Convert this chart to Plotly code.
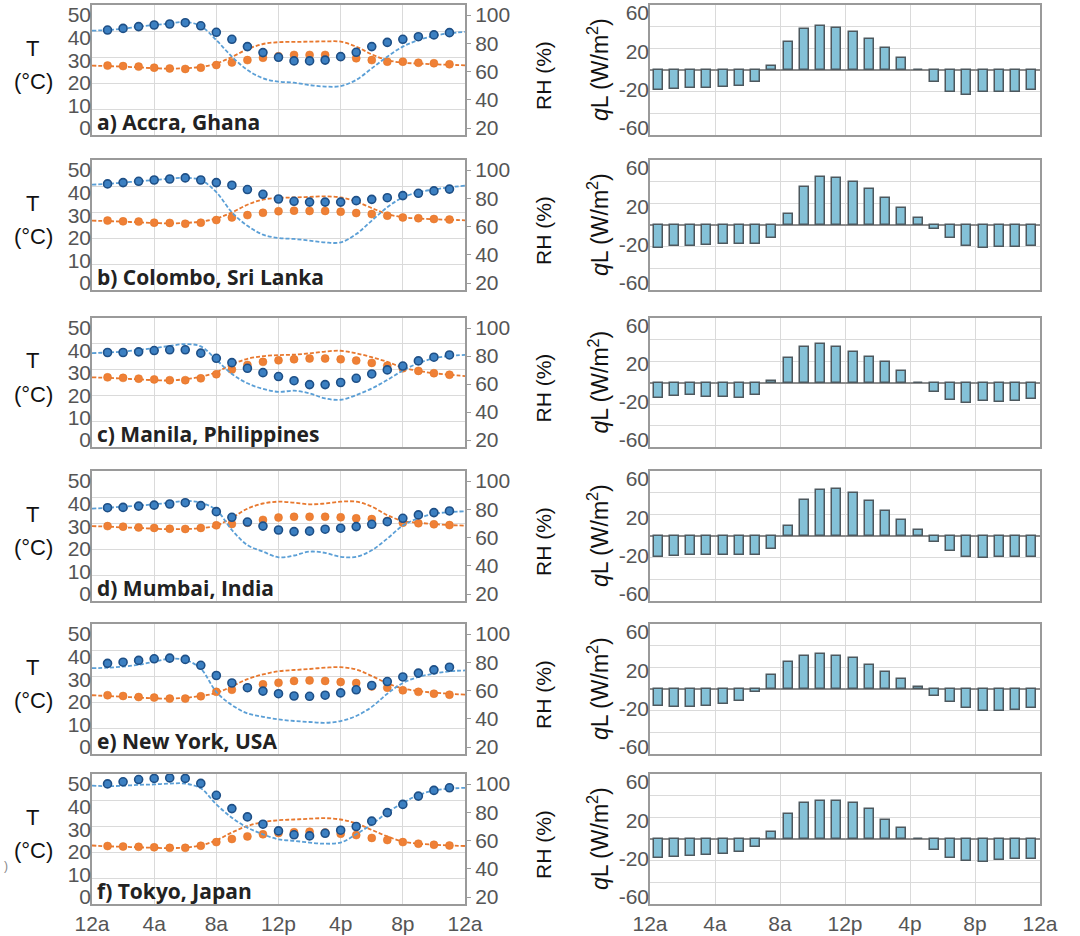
import plotly.graph_objects as go

# ---------------- data ----------------
hours_obs = list(range(1, 24))          # hourly observations
hours_model = list(range(0, 25))        # model curve sampled hourly
hours_bar = [h + 0.5 for h in range(24)]
tick_vals = [0, 4, 8, 12, 16, 20, 24]
tick_text = ["12a", "4a", "8a", "12p", "4p", "8p", "12a"]
t_ticks = [0, 10, 20, 30, 40, 50]
rh_ticks = [20, 40, 60, 80, 100]
ql_ticks = [-60, -20, 20, 60]

panel_labels = ["a) Accra, Ghana", "b) Colombo, Sri Lanka", "c) Manila, Philippines",
                "d) Mumbai, India", "e) New York, USA", "f) Tokyo, Japan"]

# Relative humidity (%) - observed (dots) and model (dashed)
accra_rh_obs = [84.6, 85.6, 86.7, 87.7, 88.3, 89.1, 87.2, 83.2, 78.9, 74.4, 70.7, 67.8, 65.6, 65.6, 66.1, 68.2, 70.9, 74.4, 77.0, 78.9, 80.5, 81.6, 83.0]
accra_rh_mod = [84.2, 84.6, 85.4, 86.7, 87.7, 88.6, 89.6, 87.0, 78.4, 68.2, 60.0, 54.9, 52.8, 52.2, 50.7, 49.8, 50.1, 53.9, 61.0, 68.2, 74.4, 78.4, 81.0, 82.6, 83.5]
colombo_rh_obs = [85.3, 86.1, 86.9, 87.7, 88.3, 89.0, 87.7, 86.1, 84.5, 81.8, 78.9, 76.0, 74.6, 74.1, 74.1, 74.1, 75.0, 75.8, 76.8, 78.1, 79.5, 81.0, 82.1]
colombo_rh_mod = [84.8, 85.3, 86.1, 86.9, 87.7, 88.5, 89.0, 87.7, 80.2, 67.8, 59.5, 54.1, 52.0, 51.4, 50.4, 49.3, 49.3, 54.4, 62.7, 70.9, 77.0, 80.2, 81.8, 83.2, 84.2]
manila_rh_obs = [78.6, 78.6, 79.0, 79.8, 80.3, 80.3, 78.2, 75.0, 72.3, 68.8, 66.1, 63.7, 61.1, 58.7, 58.7, 60.0, 62.6, 65.3, 67.8, 70.2, 73.4, 75.7, 77.1]
manila_rh_mod = [78.2, 78.6, 79.2, 80.2, 81.3, 82.7, 83.8, 82.4, 74.1, 65.3, 59.5, 56.0, 54.2, 54.9, 53.3, 50.1, 49.3, 52.2, 56.3, 61.6, 67.4, 72.0, 75.0, 76.5, 77.1]
mumbai_rh_obs = [77.4, 77.6, 78.4, 79.0, 79.7, 80.5, 78.7, 75.0, 71.5, 68.6, 66.1, 63.7, 62.7, 63.0, 64.2, 64.8, 65.8, 67.2, 68.8, 70.9, 73.0, 74.4, 75.4]
mumbai_rh_mod = [76.8, 77.4, 78.1, 78.7, 79.5, 80.5, 81.6, 80.5, 76.0, 63.7, 54.4, 50.4, 46.9, 48.0, 50.4, 49.6, 47.2, 47.2, 51.2, 58.4, 66.4, 70.9, 73.6, 74.7, 75.2]
newyork_rh_obs = [75.8, 76.5, 77.6, 78.6, 79.0, 78.2, 74.6, 68.3, 63.7, 60.8, 58.7, 57.1, 55.7, 55.5, 56.2, 57.6, 59.5, 62.2, 64.6, 67.4, 69.8, 71.8, 73.4]
newyork_rh_mod = [72.8, 73.1, 73.8, 74.9, 76.8, 78.6, 77.9, 72.5, 58.2, 50.1, 45.0, 42.9, 41.3, 40.3, 39.7, 39.2, 40.3, 43.4, 49.0, 57.1, 63.7, 67.4, 69.4, 70.9, 71.4]
tokyo_rh_obs = [93.9, 95.2, 96.6, 97.3, 97.6, 97.3, 94.2, 86.9, 78.7, 73.6, 69.1, 65.0, 62.6, 61.9, 63.5, 65.4, 67.7, 71.0, 76.2, 81.3, 86.4, 89.9, 91.5]
tokyo_rh_mod = [92.8, 92.5, 92.8, 93.3, 93.6, 94.1, 94.1, 91.2, 81.3, 73.1, 67.0, 62.9, 59.8, 58.9, 57.8, 57.1, 57.8, 62.9, 69.1, 76.2, 82.2, 87.0, 89.9, 91.0, 91.5]

# Temperature (deg C) - observed (dots) and model (dashed)
accra_t_obs = [26.7, 26.5, 26.3, 25.9, 25.6, 25.4, 25.9, 26.9, 27.9, 28.8, 29.7, 30.3, 30.8, 30.8, 30.8, 30.1, 29.5, 28.8, 28.2, 28.2, 27.8, 27.6, 27.2]
accra_t_mod = [26.7, 26.5, 26.3, 26.0, 25.7, 25.5, 25.7, 26.2, 27.5, 30.0, 33.0, 35.0, 35.7, 35.8, 35.9, 36.0, 35.9, 34.0, 31.0, 28.8, 27.8, 27.5, 27.2, 27.0, 26.8]
colombo_t_obs = [26.7, 26.4, 26.3, 25.9, 25.8, 25.5, 25.9, 26.9, 27.9, 28.8, 29.7, 30.3, 30.5, 30.4, 30.4, 30.1, 29.6, 29.2, 28.6, 27.9, 27.6, 27.3, 27.1]
colombo_t_mod = [26.7, 26.5, 26.3, 26.0, 25.8, 25.6, 25.8, 26.3, 27.5, 29.8, 32.8, 34.8, 35.4, 35.6, 35.8, 36.0, 35.6, 34.0, 31.5, 29.2, 28.0, 27.5, 27.2, 27.0, 26.8]
manila_t_obs = [27.0, 26.8, 26.5, 26.2, 25.9, 25.9, 26.6, 28.2, 30.0, 31.8, 33.0, 33.6, 34.0, 34.3, 34.3, 34.0, 33.5, 32.6, 31.5, 30.5, 29.5, 28.6, 28.0]
manila_t_mod = [27.0, 26.8, 26.5, 26.2, 25.9, 25.8, 26.3, 27.2, 29.0, 32.0, 34.2, 35.2, 35.6, 35.8, 36.3, 37.0, 37.3, 36.3, 34.8, 33.0, 30.8, 29.5, 28.6, 28.0, 27.5]
mumbai_t_obs = [28.8, 28.6, 28.3, 28.1, 27.8, 27.7, 28.1, 29.1, 29.6, 30.1, 31.2, 32.1, 32.4, 32.4, 32.4, 32.2, 31.8, 31.5, 30.8, 30.1, 29.9, 29.5, 29.2]
mumbai_t_mod = [28.8, 28.6, 28.3, 28.1, 27.8, 27.6, 27.7, 28.0, 29.0, 32.0, 35.5, 37.5, 38.2, 37.8, 37.2, 37.5, 38.2, 38.2, 36.3, 33.0, 30.8, 30.1, 29.6, 29.2, 29.0]
newyork_t_obs = [22.6, 22.3, 21.9, 21.7, 21.3, 21.3, 22.2, 23.9, 24.7, 25.5, 26.8, 27.4, 28.1, 28.3, 28.1, 27.7, 27.3, 26.0, 25.5, 24.5, 23.9, 23.2, 22.8]
newyork_t_mod = [22.6, 22.3, 22.0, 21.7, 21.4, 21.3, 21.6, 22.3, 23.5, 26.0, 28.8, 30.6, 31.8, 32.3, 32.7, 33.2, 33.4, 32.5, 30.0, 27.2, 25.2, 24.2, 23.6, 23.2, 22.8]
tokyo_t_obs = [22.3, 22.1, 22.0, 21.8, 21.6, 21.6, 22.4, 23.8, 25.0, 26.0, 26.8, 27.3, 27.6, 27.8, 27.5, 27.0, 26.5, 25.4, 24.6, 23.8, 23.2, 22.8, 22.5]
tokyo_t_mod = [22.5, 22.2, 22.0, 21.8, 21.6, 21.5, 21.7, 22.5, 24.5, 27.5, 30.0, 31.5, 32.2, 32.5, 32.8, 33.0, 32.5, 31.0, 28.5, 26.0, 24.0, 23.2, 22.8, 22.5, 22.3]

# Latent heat flux qL (W/m2), hourly bars
accra_ql = [-18.2, -17.6, -17.0, -16.3, -15.4, -14.4, -11.0, 3.4, 26.0, 37.6, 40.4, 38.6, 35.1, 28.5, 20.0, 11.3, 0.0, -11.3, -20.7, -22.9, -20.7, -20.7, -20.0, -18.5]
colombo_ql = [-21.0, -19.4, -19.4, -18.5, -17.9, -17.9, -17.2, -11.6, 10.3, 34.8, 44.2, 43.3, 40.1, 32.9, 24.5, 16.0, 6.6, -3.8, -12.2, -19.7, -21.0, -20.4, -20.0, -19.7]
manila_ql = [-14.7, -12.9, -11.9, -13.2, -13.8, -14.7, -11.9, 1.6, 22.6, 32.9, 35.4, 32.6, 28.2, 23.5, 18.8, 10.3, -0.5, -9.1, -16.3, -19.1, -17.2, -17.9, -17.2, -15.4]
mumbai_ql = [-19.1, -18.2, -17.2, -17.2, -17.2, -17.2, -17.2, -11.6, 8.8, 32.9, 42.9, 43.6, 39.8, 32.0, 23.5, 14.7, 5.3, -5.6, -14.1, -19.1, -20.4, -19.7, -19.4, -19.1]
newyork_ql = [-16.0, -16.6, -16.6, -16.0, -14.1, -11.3, -3.1, 12.9, 24.8, 30.4, 32.0, 30.4, 28.5, 22.3, 15.4, 9.1, 1.6, -6.3, -11.9, -17.2, -20.4, -20.1, -19.1, -17.6]
tokyo_ql = [-17.2, -16.6, -15.4, -14.7, -13.8, -12.2, -7.2, 6.6, 23.2, 32.9, 35.4, 35.4, 33.5, 27.3, 17.9, 9.7, 0.0, -10.3, -17.2, -20.7, -21.3, -19.7, -18.5, -18.2]

rh_obs = [accra_rh_obs, colombo_rh_obs, manila_rh_obs, mumbai_rh_obs, newyork_rh_obs, tokyo_rh_obs]
rh_mod = [accra_rh_mod, colombo_rh_mod, manila_rh_mod, mumbai_rh_mod, newyork_rh_mod, tokyo_rh_mod]
t_obs = [accra_t_obs, colombo_t_obs, manila_t_obs, mumbai_t_obs, newyork_t_obs, tokyo_t_obs]
t_mod = [accra_t_mod, colombo_t_mod, manila_t_mod, mumbai_t_mod, newyork_t_mod, tokyo_t_mod]
ql = [accra_ql, colombo_ql, manila_ql, mumbai_ql, newyork_ql, tokyo_ql]

# ---------------- styling / layout ----------------
W, H = 1080, 936
row_top = [5, 160, 318, 471, 624, 774]
row_bot = [135, 290, 447, 601, 754, 904]
LX = (92, 465)
RX = (650, 1040)

GRID = "#dadada"
BORDER = "#9a9a9a"
TICKFONT = dict(family="Liberation Sans, Arial, sans-serif", size=21, color="#555555")
BLUE_DOT = "#3c80c2"
BLUE_EDGE = "#1e4f86"
BLUE_LINE = "#5b9fd6"
ORANGE_DOT = "#ef8036"
ORANGE_LINE = "#e8782e"
BAR_FILL = "#84c1d7"
BAR_EDGE = "#4d585e"


def fx(px):
    return px / W


def fy(px):
    return 1 - px / H


def axname(kind, n):
    return f"{kind}axis" if n == 1 else f"{kind}axis{n}"


def axref(kind, n):
    return kind if n == 1 else f"{kind}{n}"


def label_range(lo, hi, top, bot, pad_top, pad_bot):
    # tick labels of the original sit slightly inside the frame
    h = bot - top
    s = (h - pad_top - pad_bot) / (hi - lo)
    return [lo - pad_bot / s, hi + pad_top / s]


fig = go.Figure()
layout = {}
annotations = []

for r in range(6):
    xl, xr = 2 * r + 1, 2 * r + 2
    yt, yrh, ytl, yrhl, yq, yql = [6 * r + k for k in range(1, 7)]
    top, bot = row_top[r], row_bot[r]
    last = r == 5
    dom = [fy(bot), fy(top)]

    # ---- left panel axes ----
    layout[axname("x", xl)] = dict(
        domain=[fx(LX[0]), fx(LX[1])], anchor=axref("y", yt), range=[0, 24],
        tickvals=tick_vals, ticktext=tick_text, showticklabels=last,
        showgrid=True, gridcolor=GRID, gridwidth=1.3, zeroline=False,
        showline=True, linecolor=BORDER, linewidth=1.6, mirror=True, ticks="",
        tickfont=TICKFONT, automargin=False, ticklabeloverflow="allow")
    layout[axname("y", yt)] = dict(
        domain=dom, anchor=axref("x", xl), range=[0, 50],
        tick0=0, dtick=10, showgrid=True, gridcolor=GRID, gridwidth=1.3,
        showticklabels=False, zeroline=False, showline=True, linecolor=BORDER,
        linewidth=1.6, mirror=True, ticks="", automargin=False)
    layout[axname("y", yrh)] = dict(
        overlaying=axref("y", yt), anchor=axref("x", xl), side="right",
        range=[20, 100], showgrid=False, showticklabels=False, zeroline=False,
        showline=False, ticks="", automargin=False)
    layout[axname("y", ytl)] = dict(
        overlaying=axref("y", yt), anchor=axref("x", xl), side="left",
        range=label_range(0, 50, top, bot, 10, 7), tickvals=t_ticks,
        showgrid=False, zeroline=False, showline=False, ticks="",
        tickfont=TICKFONT, automargin=False, ticklabeloverflow="allow")
    layout[axname("y", yrhl)] = dict(
        overlaying=axref("y", yt), anchor=axref("x", xl), side="right",
        range=label_range(20, 100, top, bot, 10, 7), tickvals=rh_ticks,
        showgrid=False, zeroline=False, showline=False, ticks="outside",
        ticklen=5, tickcolor=BORDER, tickfont=TICKFONT, automargin=False,
        ticklabeloverflow="allow")

    # ---- right panel axes ----
    layout[axname("x", xr)] = dict(
        domain=[fx(RX[0]), fx(RX[1])], anchor=axref("y", yq), range=[0, 24],
        tickvals=tick_vals, ticktext=tick_text, showticklabels=last,
        showgrid=True, gridcolor=GRID, gridwidth=1.3, zeroline=False,
        showline=True, linecolor=BORDER, linewidth=1.6, mirror=True, ticks="",
        tickfont=TICKFONT, automargin=False, ticklabeloverflow="allow")
    layout[axname("y", yq)] = dict(
        domain=dom, anchor=axref("x", xr), range=[-60, 60], tick0=-60, dtick=20,
        showgrid=True, gridcolor=GRID, gridwidth=1.3, showticklabels=False,
        zeroline=True, zerolinecolor="#8c8c8c", zerolinewidth=1.6,
        showline=True, linecolor=BORDER, linewidth=1.6, mirror=True, ticks="",
        automargin=False)
    layout[axname("y", yql)] = dict(
        overlaying=axref("y", yq), anchor=axref("x", xr), side="left",
        range=label_range(-60, 60, top, bot, 8, 7), tickvals=ql_ticks,
        ticktext=[str(v) for v in ql_ticks],
        showgrid=False, zeroline=False, showline=False, ticks="",
        tickfont=TICKFONT, automargin=False, ticklabeloverflow="allow")

    # ---- traces ----
    fig.add_trace(go.Scatter(
        x=hours_model, y=rh_mod[r], mode="lines",
        line=dict(color=BLUE_LINE, width=1.8, dash="4px,2px", shape="spline", smoothing=1.0),
        xaxis=axref("x", xl), yaxis=axref("y", yrh), hoverinfo="skip"))
    fig.add_trace(go.Scatter(
        x=hours_model, y=t_mod[r], mode="lines",
        line=dict(color=ORANGE_LINE, width=1.8, dash="4px,2px", shape="spline", smoothing=1.0),
        xaxis=axref("x", xl), yaxis=axref("y", yt), hoverinfo="skip"))
    fig.add_trace(go.Scatter(
        x=hours_obs, y=t_obs[r], mode="markers",
        marker=dict(color=ORANGE_DOT, size=8, line=dict(color="#e0701f", width=0.5)),
        xaxis=axref("x", xl), yaxis=axref("y", yt)))
    fig.add_trace(go.Scatter(
        x=hours_obs, y=rh_obs[r], mode="markers",
        marker=dict(color=BLUE_DOT, size=8, line=dict(color=BLUE_EDGE, width=1.6)),
        xaxis=axref("x", xl), yaxis=axref("y", yrh)))
    fig.add_trace(go.Bar(
        x=hours_bar, y=ql[r], width=0.55,
        marker=dict(color=BAR_FILL, line=dict(color=BAR_EDGE, width=1.5)),
        xaxis=axref("x", xr), yaxis=axref("y", yq)))
    # empty traces so that the label-only axes are rendered
    for ya, xa in ((ytl, xl), (yrhl, xl), (yql, xr)):
        fig.add_trace(go.Scatter(x=[], y=[], mode="markers", showlegend=False,
                                 xaxis=axref("x", xa), yaxis=axref("y", ya)))

    # ---- text ----
    annotations.append(dict(
        text="T", x=fx(32), y=fy(top + 43), xref="paper", yref="paper",
        xanchor="center", yanchor="middle", showarrow=False,
        font=dict(family="Liberation Sans, Arial", size=22, color="#111111")))
    annotations.append(dict(
        text="(°C)", x=fx(33), y=fy(top + 76), xref="paper", yref="paper",
        xanchor="center", yanchor="middle", showarrow=False,
        font=dict(family="Liberation Sans, Arial", size=22, color="#111111")))
    annotations.append(dict(
        text="RH (%)", x=fx(543), y=fy((top + bot) / 2 + 6), xref="paper", yref="paper",
        xanchor="center", yanchor="middle", showarrow=False, textangle=-90,
        font=dict(family="Liberation Sans, Arial", size=21, color="#111111")))
    annotations.append(dict(
        text="<i>q</i>L (W/m<sup>2</sup>)", x=fx(598), y=fy((top + bot) / 2),
        xref="paper", yref="paper", xanchor="center", yanchor="middle",
        showarrow=False, textangle=-90,
        font=dict(family="Liberation Sans, Arial", size=23, color="#111111")))
    annotations.append(dict(
        text="<b>" + panel_labels[r] + "</b>", x=fx(95), y=fy(bot - 13),
        xref="paper", yref="paper", xanchor="left", yanchor="middle",
        showarrow=False,
        font=dict(family="Open Sans, Liberation Sans", size=21, color="#222222")))

# small stray mark at the left edge of the original figure
annotations.append(dict(
    text=")", x=fx(6), y=fy(866), xref="paper", yref="paper",
    xanchor="center", yanchor="middle", showarrow=False,
    font=dict(family="Liberation Sans", size=12, color="#888888")))

fig.update_layout(
    width=W, height=H, margin=dict(l=0, r=0, t=0, b=0, autoexpand=False),
    paper_bgcolor="white", plot_bgcolor="white", showlegend=False,
    annotations=annotations, bargap=0, **layout)

fig.write_html("out.html")
